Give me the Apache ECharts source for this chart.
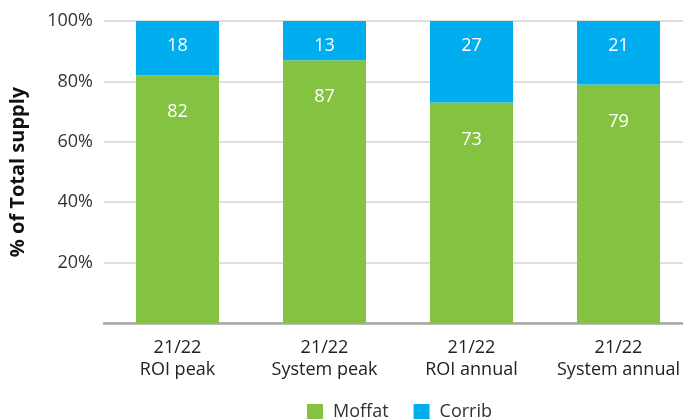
<!DOCTYPE html>
<html>
<head>
<meta charset="utf-8">
<script src="https://cdn.jsdelivr.net/npm/echarts@6/dist/echarts.min.js"></script>
<style>
  html, body { margin: 0; padding: 0; background: #fff; }
  #chart { width: 683px; height: 419px; }
</style>
</head>
<body>
<div id="chart"></div>
<script>
const categories = ['21/22\nROI peak', '21/22\nSystem peak', '21/22\nROI annual', '21/22\nSystem annual']
const moffat = [82, 87, 73, 79]
const corrib = [18, 13, 27, 21]
const yTicks = [0, 20, 40, 60, 80, 100]

const font = '"Open Sans", "Noto Sans", sans-serif'
let chart = echarts.init(document.getElementById('chart'))

let option = {
  animation: false,
  textStyle: { fontFamily: font },
  grid: { left: 104, top: 21, width: 588, height: 302, outerBoundsMode: 'none' },
  legend: {
    data: ['Moffat', 'Corrib'],
    left: 307,
    top: 403,
    padding: 0,
    itemWidth: 16,
    itemHeight: 16,
    itemGap: 25,
    icon: 'rect',
    textStyle: { fontSize: 18, color: '#333', fontFamily: font, padding: [0, 0, 0, 5] }
  },
  xAxis: {
    type: 'category',
    data: categories,
    axisLine: { lineStyle: { color: '#a6a6a6', width: 2.5 } },
    axisTick: { alignWithLabel: true, length: 5, lineStyle: { color: '#bbb' } },
    axisLabel: { fontSize: 18, color: '#222', lineHeight: 22, margin: 14, interval: 0 }
  },
  yAxis: {
    type: 'value',
    min: yTicks[0],
    max: yTicks[yTicks.length - 1],
    interval: 20,
    name: '% of Total supply',
    nameLocation: 'middle',
    nameGap: 76,
    nameTextStyle: { fontSize: 20, fontWeight: 'bold', color: '#111' },
    axisLabel: {
      fontSize: 18, color: '#333', margin: 11,
      formatter: v => v === 0 ? '' : v + '%'
    },
    splitLine: { lineStyle: { color: '#d4d4d4', width: 1.5 } }
  },
  series: [
    {
      name: 'Moffat',
      type: 'bar',
      stack: 'total',
      barWidth: 83,
      data: moffat,
      itemStyle: { color: '#84c341' },
      label: { show: true, position: 'insideTop', distance: 28, color: '#fff', fontSize: 18 }
    },
    {
      name: 'Corrib',
      type: 'bar',
      stack: 'total',
      data: corrib,
      itemStyle: { color: '#00aeef' },
      label: { show: true, position: 'insideTop', distance: 16, color: '#fff', fontSize: 18 }
    }
  ]
}
chart.setOption(option)
</script>
</body>
</html>
